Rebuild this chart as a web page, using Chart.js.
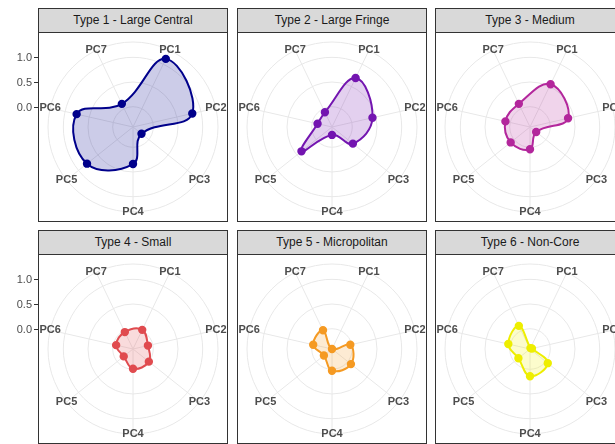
<!DOCTYPE html>
<html>
<head>
<meta charset="utf-8">
<script src="https://cdn.jsdelivr.net/npm/chart.js@4"></script>
<style>
  body { margin: 0; width: 615px; height: 444px; overflow: hidden; background: #fff; position: relative; font-family: "Liberation Sans", Arial, sans-serif; }
  .strip { position: absolute; box-sizing: border-box; height: 25px; background: #d9d9d9; border: 1px solid #333; color: #1a1a1a; font-size: 12px; text-align: center; line-height: 23px; }
  .panel { position: absolute; box-sizing: border-box; border: 1px solid #333; }
  canvas { position: absolute; }
</style>
</head>
<body>
<script>
// principal components round the circle
const axes = ['PC1', 'PC2', 'PC3', 'PC4', 'PC5', 'PC6', 'PC7'];
const titles = ['Type 1 - Large Central', 'Type 2 - Large Fringe', 'Type 3 - Medium',
                'Type 4 - Small', 'Type 5 - Micropolitan', 'Type 6 - Non-Core'];

// mean scores per type
const type1 = [1.12, 0.82, -0.19, 0.34, 0.78, 0.76, 0.11];
const type2 = [0.69, 0.43, 0.13, -0.25, 0.38, -0.11, -0.08];
const type3 = [0.55, 0.38, -0.25, 0.04, 0.09, 0.10, 0.11];
const type4 = [0.02, -0.10, 0.00, -0.01, -0.17, -0.06, -0.03];
const type5 = [-0.41, -0.03, 0.08, 0.03, -0.20, -0.02, 0.01];
const type6 = [-0.39, -0.37, 0.05, 0.14, -0.11, 0.04, 0.11];

const yTicks = [0, 0.5, 1.0];
const yTickLabels = ['0.0', '0.5', '1.0'];
const rMin = -0.41;
const rMax = 1.31;   // outer ring (ggplot draws it a bit beyond the data)

const colors = ['#00008b', '#7315b0', '#b3279c', '#e04b4f', '#f59a23', '#eeee00'];
const series = [type1, type2, type3, type4, type5, type6];

const colX = [38, 237, 435];
const rowY = [32, 254];
const size = 190;
const pad = 9.5;

const hexA = (hex, a) => {
    const n = parseInt(hex.slice(1), 16);
    return 'rgba(' + (n >> 16) + ',' + ((n >> 8) & 255) + ',' + (n & 255) + ',' + a + ')';
};

const panelDeco = {
    id: 'panelDeco',
    afterDraw(chart, args, opts) {
        const r = chart.scales.r;
        const ctx = chart.ctx;
        ctx.save();
        ctx.font = 'bold 11px "Liberation Sans", Arial, sans-serif';
        ctx.fillStyle = '#4d4d4d';
        ctx.textAlign = 'center';
        ctx.textBaseline = 'middle';
        axes.forEach((lab, i) => {
            const p = r.getPointPosition(i, r.drawingArea);
            ctx.fillText(lab, p.x, p.y);
        });
        if (opts.showY) {
            ctx.font = '11px "Liberation Sans", Arial, sans-serif';
            ctx.textAlign = 'right';
            ctx.strokeStyle = '#333';
            ctx.lineWidth = 1;
            yTicks.forEach((v, i) => {
                const y = Math.round(r.yCenter - r.getDistanceFromCenterForValue(v)) + 0.5;
                ctx.beginPath();
                ctx.moveTo(opts.edge - 4, y);
                ctx.lineTo(opts.edge, y);
                ctx.stroke();
                ctx.fillText(yTickLabels[i], opts.edge - 6, y);
            });
        }
        ctx.restore();
    }
};

const renderPanel = (idx) => {
    const col = idx % 3, row = Math.floor(idx / 3);
    const px = colX[col], py = rowY[row];

    const strip = document.createElement('div');
    strip.className = 'strip';
    strip.style.left = px + 'px';
    strip.style.top = (py - 24) + 'px';
    strip.style.width = size + 'px';
    strip.textContent = titles[idx];
    document.body.appendChild(strip);

    const panel = document.createElement('div');
    panel.className = 'panel';
    panel.style.left = px + 'px';
    panel.style.top = py + 'px';
    panel.style.width = size + 'px';
    panel.style.height = size + 'px';
    document.body.appendChild(panel);

    const extra = col === 0 ? 38 : 0;
    const canvas = document.createElement('canvas');
    canvas.width = size + extra;
    canvas.height = size;
    canvas.style.left = (px - extra) + 'px';
    canvas.style.top = py + 'px';
    document.body.appendChild(canvas);

    const c = colors[idx];
    new Chart(canvas.getContext('2d'), {
        type: 'radar',
        data: {
            labels: axes,
            datasets: [{
                data: series[idx],
                borderColor: c,
                backgroundColor: hexA(c, 0.2),
                pointBackgroundColor: c,
                pointBorderColor: c,
                pointRadius: 3.2,
                borderWidth: 2,
                tension: 0.42,
                fill: 'start',
            }],
        },
        plugins: [panelDeco],
        options: {
            responsive: false,
            animation: false,
            layout: { padding: { left: pad + extra, right: pad, top: pad, bottom: pad } },
            plugins: {
                legend: { display: false },
                tooltip: { enabled: false },
                panelDeco: { showY: col === 0, edge: extra },
            },
            scales: {
                r: {
                    min: rMin,
                    max: rMax,
                    startAngle: 360 / 14,
                    afterBuildTicks: (scale) => {
                        scale.ticks = yTicks.concat([rMax]).map(v => ({ value: v }));
                    },
                    ticks: { display: false },
                    pointLabels: { display: false },
                    grid: { circular: true, color: '#e8e8e8', lineWidth: 1 },
                    angleLines: { color: '#e8e8e8', lineWidth: 1 },
                },
            },
        },
    });
};

window.addEventListener('load', () => {
    for (let i = 0; i < 6; i++) renderPanel(i);
});
</script>
</body>
</html>
